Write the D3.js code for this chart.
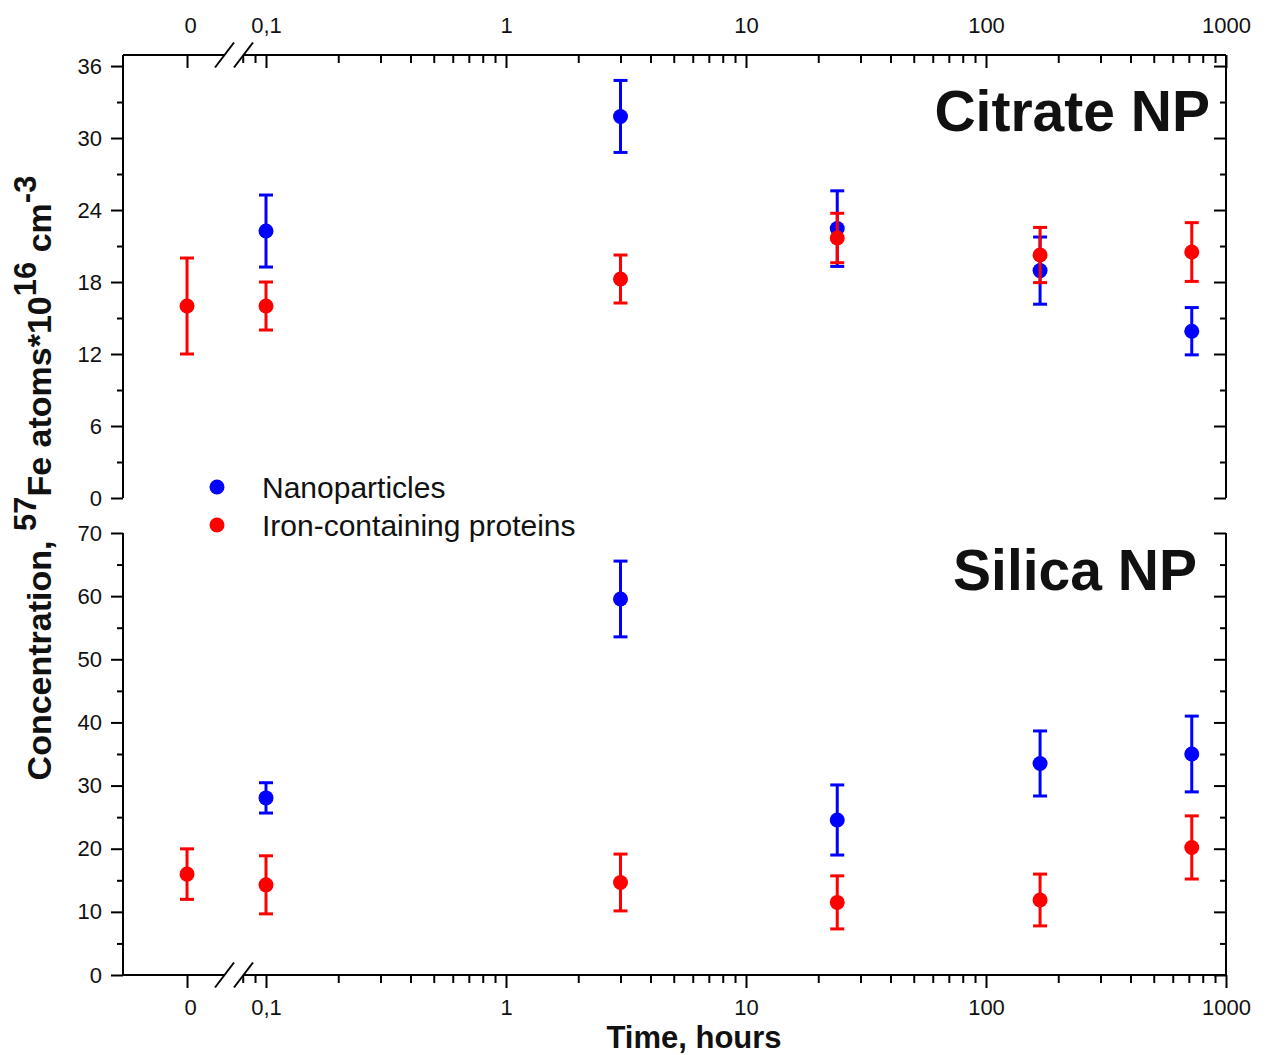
<!DOCTYPE html>
<html>
<head>
<meta charset="utf-8">
<script src="https://cdn.jsdelivr.net/npm/d3@7"></script>
<style>
    body { margin: 0; background: #fff; }
    text { font-family: "Liberation Sans", Arial, sans-serif; }
</style>
</head>
<body>
<div id="chart"></div>
<script>
// time points (hours); 0 sits left of the axis break
const times = [0, 0.1, 3, 24, 168, 720];

// Citrate NP panel
const citrateNano = [null, 22.25, 31.8, 22.45, 18.95, 13.9];
const citrateNanoErr = [null, 3.0, 3.0, 3.15, 2.8, 1.97];
const citrateProt = [16.0, 16.0, 18.25, 21.67, 20.25, 20.5];
const citrateProtErr = [4.0, 2.0, 2.0, 2.06, 2.3, 2.45];

// Silica NP panel
const silicaNano = [null, 28.05, 59.55, 24.55, 33.5, 35.0];
const silicaNanoErr = [null, 2.4, 6.0, 5.55, 5.15, 6.0];
const silicaProt = [15.98, 14.28, 14.65, 11.5, 11.88, 20.2];
const silicaProtErr = [4.0, 4.6, 4.5, 4.2, 4.1, 5.0];

// axis ticks
const xMajorLog = [0.1, 1, 10, 100, 1000];
const xMajorLabels = ["0,1", "1", "10", "100", "1000"];
const xMinorLog = [0.08, 0.09, 0.2, 0.3, 0.4, 0.5, 0.6, 0.7, 0.8, 0.9,
    2, 3, 4, 5, 6, 7, 8, 9, 20, 30, 40, 50, 60, 70, 80, 90,
    200, 300, 400, 500, 600, 700, 800, 900];
const citrateMajor = [0, 6, 12, 18, 24, 30, 36];
const citrateMinor = [3, 9, 15, 21, 27, 33];
const silicaMajor = [0, 10, 20, 30, 40, 50, 60, 70];
const silicaMinor = [5, 15, 25, 35, 45, 55, 65];

const seriesNames = ["Nanoparticles", "Iron-containing proteins"];
const seriesColors = ["#0000ff", "#ff0000"];

const W = 1269, H = 1055;
const left = 123, right = 1226;
const breakL = 224.5, breakR = 243.5;

const svg = d3.select("#chart").append("svg")
    .attr("width", W)
    .attr("height", H);

svg.append("rect").attr("width", W).attr("height", H).attr("fill", "#fff");

// x scales: short linear piece for t = 0, log piece after the break
const xLin = d3.scaleLinear().domain([-1, 0.74]).range([left, 234.4]);
const xLog = d3.scaleLog().domain([0.1, 1000]).range([266, right]);
const xPos = t => t <= 0 ? xLin(t) : xLog(t);

function styleAxis(g) {
    g.select(".domain").remove();
    g.selectAll("line").attr("stroke", "#000").attr("stroke-width", 2);
    g.selectAll("text")
        .attr("font-family", "'Liberation Sans', Arial, sans-serif")
        .attr("font-size", 22)
        .attr("fill", "#111");
}

function breakLine(y) {
    svg.append("line")
        .attr("x1", left).attr("x2", breakL)
        .attr("y1", y).attr("y2", y)
        .attr("stroke", "#000").attr("stroke-width", 2);
    svg.append("line")
        .attr("x1", breakR).attr("x2", right)
        .attr("y1", y).attr("y2", y)
        .attr("stroke", "#000").attr("stroke-width", 2);
    [breakL, breakR].forEach(cx => {
        svg.append("line")
            .attr("x1", cx - 9.5).attr("x2", cx + 9.5)
            .attr("y1", y + 12.5).attr("y2", y - 12.5)
            .attr("stroke", "#000").attr("stroke-width", 2);
    });
}

class ErrorPanel {

    constructor(cfg) {
        this.cfg = cfg;
        this.initVis();
    }

    initVis() {
        let vis = this;
        let c = vis.cfg;

        vis.y = d3.scaleLinear().domain(c.domain).range([c.bottom, c.top]);

        // left axis, ticks outward
        svg.append("g")
            .attr("transform", "translate(" + left + ",0)")
            .call(d3.axisLeft(vis.y).tickValues(c.major).tickSize(12).tickPadding(9).tickFormat(d3.format("d")))
            .call(styleAxis);
        svg.append("g")
            .attr("transform", "translate(" + left + ",0)")
            .call(d3.axisLeft(vis.y).tickValues(c.minor).tickSize(6).tickFormat(""))
            .call(styleAxis);

        // right axis, ticks inward
        svg.append("g")
            .attr("transform", "translate(" + right + ",0)")
            .call(d3.axisLeft(vis.y).tickValues(c.major).tickSize(12).tickFormat(""))
            .call(styleAxis);
        svg.append("g")
            .attr("transform", "translate(" + right + ",0)")
            .call(d3.axisLeft(vis.y).tickValues(c.minor).tickSize(6).tickFormat(""))
            .call(styleAxis);

        [left, right].forEach(x => {
            svg.append("line")
                .attr("x1", x).attr("x2", x)
                .attr("y1", c.top).attr("y2", c.bottom)
                .attr("stroke", "#000").attr("stroke-width", 2);
        });

        // x axis (top edge for the upper panel, bottom edge for the lower one)
        let xy = c.xAxisAt === "top" ? c.top : c.bottom;
        let labelAxis = c.xAxisAt === "top" ? d3.axisTop : d3.axisBottom;
        let pad = c.xAxisAt === "top" ? 22 : 24;

        // ticks point down on both edges
        svg.append("g")
            .attr("transform", "translate(0," + xy + ")")
            .call(d3.axisBottom(xLog).tickValues(xMajorLog).tickSize(13).tickFormat(""))
            .call(styleAxis);
        svg.append("g")
            .attr("transform", "translate(0," + xy + ")")
            .call(d3.axisBottom(xLog).tickValues(xMinorLog).tickSize(8).tickFormat(""))
            .call(styleAxis);
        svg.append("g")
            .attr("transform", "translate(0," + xy + ")")
            .call(d3.axisBottom(xLin).tickValues([0]).tickSize(13).tickFormat(""))
            .call(styleAxis);
        svg.append("g")
            .attr("transform", "translate(0," + xy + ")")
            .call(labelAxis(xLog).tickValues(xMajorLog).tickSize(0).tickPadding(pad)
                .tickFormat((d, i) => xMajorLabels[i]))
            .call(styleAxis);
        svg.append("g")
            .attr("transform", "translate(3," + xy + ")")
            .call(labelAxis(xLin).tickValues([0]).tickSize(0).tickPadding(pad).tickFormat(d3.format("d")))
            .call(styleAxis);
        breakLine(xy);

        // title
        svg.append("text")
            .attr("x", c.titleX).attr("y", c.titleY)
            .attr("text-anchor", "end")
            .attr("font-size", 57)
            .attr("font-weight", "bold")
            .attr("fill", "#111")
            .text(c.title);

        vis.updateVis();
    }

    updateVis() {
        let vis = this;
        let c = vis.cfg;

        c.series.forEach((s, k) => {
            let pts = times.map((t, i) => ({t: t, v: s.values[i], e: s.errs[i]}))
                .filter(d => d.v !== null);
            let g = svg.append("g").attr("fill", seriesColors[k]).attr("stroke", seriesColors[k]);

            g.selectAll(".bar").data(pts).enter().append("line")
                .attr("x1", d => xPos(d.t)).attr("x2", d => xPos(d.t))
                .attr("y1", d => vis.y(d.v - d.e)).attr("y2", d => vis.y(d.v + d.e))
                .attr("stroke-width", 3);
            g.selectAll(".capTop").data(pts).enter().append("line")
                .attr("x1", d => xPos(d.t) - 7).attr("x2", d => xPos(d.t) + 7)
                .attr("y1", d => vis.y(d.v + d.e)).attr("y2", d => vis.y(d.v + d.e))
                .attr("stroke-width", 3);
            g.selectAll(".capBot").data(pts).enter().append("line")
                .attr("x1", d => xPos(d.t) - 7).attr("x2", d => xPos(d.t) + 7)
                .attr("y1", d => vis.y(d.v - d.e)).attr("y2", d => vis.y(d.v - d.e))
                .attr("stroke-width", 3);
            g.selectAll("circle").data(pts).enter().append("circle")
                .attr("cx", d => xPos(d.t))
                .attr("cy", d => vis.y(d.v))
                .attr("r", 7.5)
                .attr("stroke", "none");
        });
    }
}

new ErrorPanel({
    domain: [0, 36.92], top: 55, bottom: 498,
    major: citrateMajor, minor: citrateMinor,
    xAxisAt: "top",
    title: "Citrate NP", titleX: 1210, titleY: 131,
    series: [
        {values: citrateNano, errs: citrateNanoErr},
        {values: citrateProt, errs: citrateProtErr}
    ]
});

new ErrorPanel({
    domain: [0, 70], top: 533, bottom: 975,
    major: silicaMajor, minor: silicaMinor,
    xAxisAt: "bottom",
    title: "Silica NP", titleX: 1197, titleY: 590,
    series: [
        {values: silicaNano, errs: silicaNanoErr},
        {values: silicaProt, errs: silicaProtErr}
    ]
});

// legend
seriesNames.forEach((name, i) => {
    svg.append("circle")
        .attr("cx", 217).attr("cy", 487 + i * 38)
        .attr("r", 7.5)
        .attr("fill", seriesColors[i]);
    svg.append("text")
        .attr("x", 262).attr("y", 487 + i * 38)
        .attr("dy", "0.35em")
        .attr("font-size", 30)
        .attr("fill", "#111")
        .text(name);
});

// axis titles
svg.append("text")
    .attr("x", 694).attr("y", 1048)
    .attr("text-anchor", "middle")
    .attr("font-size", 31)
    .attr("font-weight", "bold")
    .attr("fill", "#111")
    .text("Time, hours");

let yTitle = svg.append("text")
    .attr("transform", "translate(51,478) rotate(-90)")
    .attr("text-anchor", "middle")
    .attr("font-size", 34)
    .attr("font-weight", "bold")
    .attr("fill", "#111");
yTitle.append("tspan").text("Concentration, ");
yTitle.append("tspan").attr("dy", -15).attr("font-size", 31).text("57");
yTitle.append("tspan").attr("dy", 15).text("Fe atoms*10");
yTitle.append("tspan").attr("dy", -15).attr("font-size", 31).text("16");
yTitle.append("tspan").attr("dy", 15).text(" cm");
yTitle.append("tspan").attr("dy", -15).attr("font-size", 31).text("-3");
</script>
</body>
</html>
